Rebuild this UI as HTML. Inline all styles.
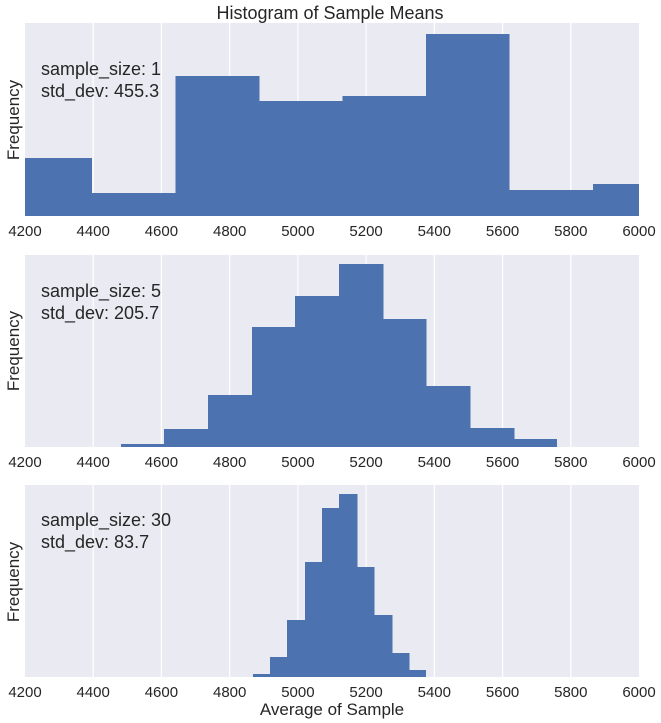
<!DOCTYPE html>
<html><head><meta charset="utf-8"><style>body{margin:0;background:#fff}svg{display:block;font-family:"Liberation Sans",Arial,sans-serif}</style></head><body>
<svg width="661" height="723" xmlns="http://www.w3.org/2000/svg">
<defs>
<g id="grid" stroke="#fff" stroke-width="1.2">
<line x1="93.2" x2="93.2" y1="0" y2="200"/><line x1="161.4" x2="161.4" y1="0" y2="200"/><line x1="229.7" x2="229.7" y1="0" y2="200"/><line x1="297.9" x2="297.9" y1="0" y2="200"/><line x1="366.1" x2="366.1" y1="0" y2="200"/><line x1="434.3" x2="434.3" y1="0" y2="200"/><line x1="502.6" x2="502.6" y1="0" y2="200"/><line x1="570.8" x2="570.8" y1="0" y2="200"/>
</g>
<g id="ticks" font-size="15" fill="#262626" text-anchor="middle">
<text x="25">4200</text><text x="93.2">4400</text><text x="161.4">4600</text><text x="229.7">4800</text><text x="297.9">5000</text><text x="366.1">5200</text><text x="434.3">5400</text><text x="502.6">5600</text><text x="570.8">5800</text><text x="639">6000</text>
</g>
</defs>
<text x="330" y="19" font-size="18" fill="#262626" text-anchor="middle">Histogram of Sample Means</text>
<!-- panel 1 -->
<rect x="25" y="23" width="614" height="193" fill="#eaeaf2"/>
<svg x="0" y="23" width="661" height="193"><use href="#grid"/></svg>
<g fill="#4c72b0">
<rect x="25" y="158" width="67" height="58"/>
<rect x="92" y="193" width="84" height="23"/>
<rect x="175.5" y="76" width="84" height="140"/>
<rect x="259" y="101" width="84" height="115"/>
<rect x="342.5" y="96" width="84" height="120"/>
<rect x="426" y="34" width="83.5" height="182"/>
<rect x="509" y="190" width="84.5" height="26"/>
<rect x="593" y="184" width="46" height="32"/>
</g>
<text x="41" y="75" font-size="18" fill="#262626">sample_size: 1</text>
<text x="41" y="97" font-size="18" fill="#262626">std_dev: 455.3</text>
<text transform="translate(19,120) rotate(-90)" font-size="17" fill="#262626" text-anchor="middle">Frequency</text>
<use href="#ticks" y="236"/>
<!-- panel 2 -->
<rect x="25" y="255" width="614" height="192" fill="#eaeaf2"/>
<svg x="0" y="255" width="661" height="192"><use href="#grid"/></svg>
<g fill="#4c72b0">
<rect x="121" y="444" width="43.5" height="3"/>
<rect x="164" y="429" width="44.5" height="18"/>
<rect x="208" y="395" width="44.5" height="52"/>
<rect x="252" y="327" width="43.5" height="120"/>
<rect x="295" y="296" width="44.5" height="151"/>
<rect x="339" y="264" width="44.5" height="183"/>
<rect x="383" y="319" width="43.5" height="128"/>
<rect x="426" y="386" width="44.5" height="61"/>
<rect x="470" y="428" width="44.5" height="19"/>
<rect x="514" y="439" width="43" height="8"/>
</g>
<text x="41" y="297" font-size="18" fill="#262626">sample_size: 5</text>
<text x="41" y="319" font-size="18" fill="#262626">std_dev: 205.7</text>
<text transform="translate(19,351) rotate(-90)" font-size="17" fill="#262626" text-anchor="middle">Frequency</text>
<use href="#ticks" y="467"/>
<!-- panel 3 -->
<rect x="25" y="485" width="614" height="192" fill="#eaeaf2"/>
<svg x="0" y="485" width="661" height="192"><use href="#grid"/></svg>
<g fill="#4c72b0">
<rect x="253" y="674" width="17.5" height="3"/>
<rect x="270" y="657" width="17.5" height="20"/>
<rect x="287" y="620" width="18.5" height="57"/>
<rect x="305" y="562" width="17.5" height="115"/>
<rect x="322" y="508" width="17.5" height="169"/>
<rect x="339" y="494" width="18.5" height="183"/>
<rect x="357" y="567" width="17.5" height="110"/>
<rect x="374" y="615" width="18.5" height="62"/>
<rect x="392" y="653" width="17.5" height="24"/>
<rect x="409" y="670" width="17" height="7"/>
</g>
<text x="41" y="526" font-size="18" fill="#262626">sample_size: 30</text>
<text x="41" y="548" font-size="18" fill="#262626">std_dev: 83.7</text>
<text transform="translate(19,582) rotate(-90)" font-size="17" fill="#262626" text-anchor="middle">Frequency</text>
<use href="#ticks" y="697"/>
<text x="332" y="715" font-size="17" fill="#262626" text-anchor="middle">Average of Sample</text>
</svg>
</body></html>
